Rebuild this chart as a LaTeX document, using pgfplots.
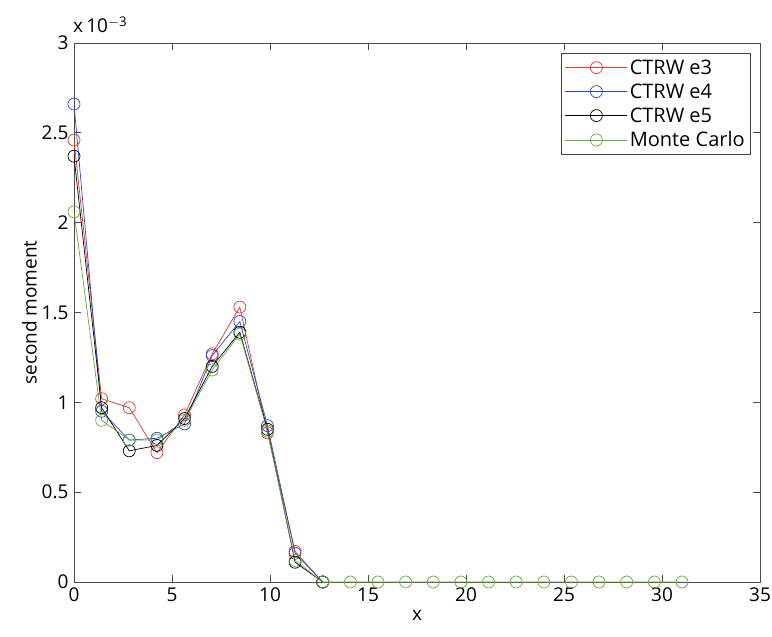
\documentclass[border=0pt]{standalone}
\usepackage{fontspec}
\setmainfont{Open Sans}
\usepackage{pgfplots}
\pgfplotsset{compat=1.18}
\definecolor{cred}{RGB}{225,55,45}
\definecolor{cblue}{RGB}{45,70,200}
\definecolor{cgreen}{RGB}{95,170,60}
\pgfplotsset{leg/.style={legend image code/.code={%
  \draw[draw=#1,line width=0.7pt] (0pt,0pt) -- (62pt,0pt);
  \draw[draw=#1,line width=0.7pt] (31pt,0pt) circle[radius=6pt];}}}
\begin{document}
\begin{tikzpicture}
\begin{axis}[
  name=ax,
  scale only axis,width=686pt,height=539pt,
  xmin=0,xmax=35,ymin=0,ymax=0.003,
  xtick={0,5,...,35},
  ytick={0,0.0005,0.001,0.0015,0.002,0.0025,0.003},
  scaled y ticks=base 10:3,
  ytick scale label code/.code={},
  /pgf/number format/assume math mode=true,
  yticklabel style={/pgf/number format/fixed,/pgf/number format/precision=1,xshift=-2pt},
  font=\fontsize{19}{22}\selectfont,
  tick label style={font=\fontsize{19}{22}\selectfont},
  xticklabel style={yshift=-2pt},
  tick align=inside,major tick length=7pt,
  xlabel={x},ylabel={second moment},
  xlabel style={yshift=-2pt},ylabel style={yshift=-2pt},
  axis line style={black!70,line width=0.8pt},
  every tick/.style={black!70,line width=0.8pt},
  legend style={at={(0.987,0.981)},anchor=north east,draw=black!75,line width=0.8pt,
    font=\fontsize{20}{22}\selectfont,inner xsep=4pt,inner ysep=4pt,row sep=4pt},
  legend cell align=left,
  every axis plot/.append style={line width=0.7pt,mark=o,mark size=6pt,mark options={solid,line width=0.7pt}}
]
\addplot[color=cred,leg=cred] coordinates {(0,0.00246) (1.41,0.00102) (2.82,0.00097) (4.23,0.00072) (5.64,0.00093) (7.05,0.00127) (8.46,0.00153) (9.87,0.00083) (11.28,0.00017) (12.69,0)};
\addlegendentry{CTRW e3}
\addplot[color=cblue,leg=cblue] coordinates {(0,0.00266) (1.41,0.00095) (2.82,0.00079) (4.23,0.00080) (5.64,0.00088) (7.05,0.00126) (8.46,0.00145) (9.87,0.00087) (11.28,0.00016) (12.69,0)};
\addlegendentry{CTRW e4}
\addplot[color=black,leg=black] coordinates {(0,0.00237) (1.41,0.00097) (2.82,0.00073) (4.23,0.00076) (5.64,0.00091) (7.05,0.00120) (8.46,0.00139) (9.87,0.00085) (11.28,0.00011) (12.69,0)};
\addlegendentry{CTRW e5}
\addplot[color=cgreen,leg=cgreen] coordinates {(0,0.00206) (1.41,0.00090) (2.82,0.00079) (4.23,0.00079) (5.64,0.00090) (7.05,0.00118) (8.46,0.00138) (9.87,0.00084) (11.28,0.00012) (12.69,0) (14.10,0) (15.51,0) (16.92,0) (18.33,0) (19.74,0) (21.15,0) (22.56,0) (23.97,0) (25.38,0) (26.79,0) (28.20,0) (29.61,0) (31.02,0)};
\addlegendentry{Monte Carlo}
\end{axis}
\node[anchor=base west,inner sep=0pt,font=\fontsize{19}{22}\selectfont] at ([xshift=-1pt,yshift=10pt]ax.north west) {x\,10\textsuperscript{$-$3}};
\path (ax.south west) ++(-74pt,-54pt) coordinate (bbA);
\path (ax.north east) ++(12pt,43pt) coordinate (bbB);
\pgfresetboundingbox
\useasboundingbox (bbA) rectangle (bbB);
\end{tikzpicture}
\end{document}
